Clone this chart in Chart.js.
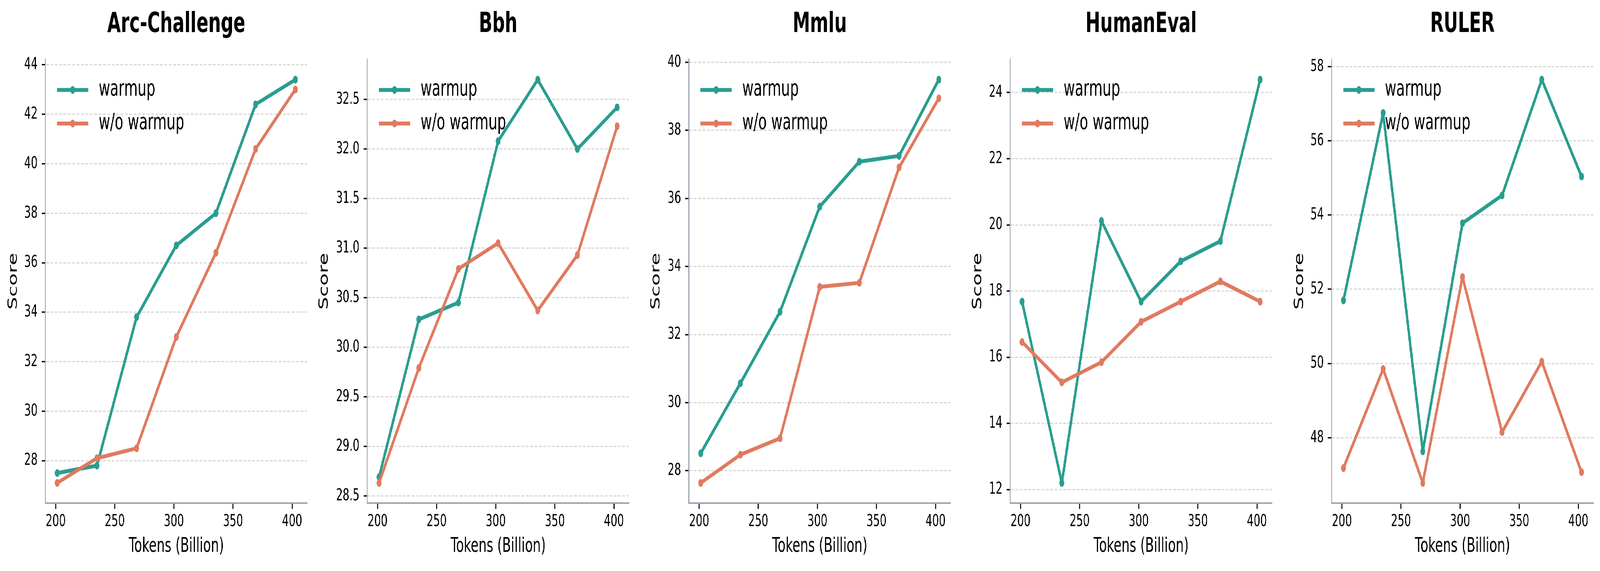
<!DOCTYPE html>
<html>
<head>
<meta charset="utf-8">
<script src="https://cdn.jsdelivr.net/npm/chart.js@4.4.1/dist/chart.umd.min.js"></script>
<style>
  html, body { margin: 0; padding: 0; background: #fff; overflow: hidden; }
  #wrap { position: absolute; left: 0; top: 0; width: 6562px; height: 1463px; background: #fff; transform-origin: 0 0; }
  #wrap canvas { position: absolute; top: 0; }
</style>
</head>
<body>
<div id="wrap"></div>
<script>
// x positions (tokens, billion) shared by every panel
const tokens = [201.3, 234.9, 268.4, 302.0, 335.5, 369.1, 402.7];
const xTicks = [200, 250, 300, 350, 400];

const arcWarmup = [27.5, 27.8, 33.8, 36.7, 38.0, 42.4, 43.4];
const arcNoWarmup = [27.1, 28.1, 28.5, 33.0, 36.4, 40.6, 43.0];
const arcTicks = [28, 30, 32, 34, 36, 38, 40, 42, 44];

const bbhWarmup = [28.69, 30.28, 30.45, 32.08, 32.70, 32.00, 32.42];
const bbhNoWarmup = [28.63, 29.79, 30.79, 31.05, 30.37, 30.93, 32.23];
const bbhTicks = [28.5, 29.0, 29.5, 30.0, 30.5, 31.0, 31.5, 32.0, 32.5];

const mmluWarmup = [28.51, 30.57, 32.67, 35.76, 37.08, 37.25, 39.49];
const mmluNoWarmup = [27.64, 28.47, 28.95, 33.40, 33.52, 36.91, 38.94];
const mmluTicks = [28, 30, 32, 34, 36, 38, 40];

const humanEvalWarmup = [17.68, 12.20, 20.12, 17.68, 18.90, 19.51, 24.39];
const humanEvalNoWarmup = [16.46, 15.24, 15.85, 17.07, 17.68, 18.29, 17.68];
const humanEvalTicks = [12, 14, 16, 18, 20, 22, 24];

const rulerWarmup = [51.70, 56.75, 47.63, 53.78, 54.53, 57.65, 55.04];
const rulerNoWarmup = [47.18, 49.85, 46.78, 52.33, 48.15, 50.05, 47.07];
const rulerTicks = [48, 50, 52, 54, 56, 58];

const seriesLabels = ["warmup", "w/o warmup"];
const seriesColors = ["#2a9d8f", "#e07a5f"];

document.addEventListener("DOMContentLoaded", function () {
    const FONT = "'DejaVu Sans', 'Liberation Sans', sans-serif";
    const SPINE = "#9aa5b1";
    const W = 6562, H = 1463;
    const Y_BOX = 240;      // width reserved left of each plot area
    const PLOT_W = 1074;
    const RIGHT_PAD = 20;

    // the figure is laid out at 6562x1463; fit it to whatever viewport we get
    const wrap = document.getElementById("wrap");
    const sx = window.innerWidth / W, sy = window.innerHeight / H;
    wrap.style.transform = "scale(" + sx + "," + sy + ")";

    Chart.defaults.font.family = FONT;

    const panels = [
        { title: "Arc-Challenge", warmup: arcWarmup, noWarmup: arcNoWarmup, ticks: arcTicks, decimals: 0, left: 186, scoreGap: 131 },
        { title: "Bbh", warmup: bbhWarmup, noWarmup: bbhNoWarmup, ticks: bbhTicks, decimals: 1, left: 1506, scoreGap: 176 },
        { title: "Mmlu", warmup: mmluWarmup, noWarmup: mmluNoWarmup, ticks: mmluTicks, decimals: 0, left: 2825, scoreGap: 134 },
        { title: "HumanEval", warmup: humanEvalWarmup, noWarmup: humanEvalNoWarmup, ticks: humanEvalTicks, decimals: 0, left: 4143, scoreGap: 133 },
        { title: "RULER", warmup: rulerWarmup, noWarmup: rulerNoWarmup, ticks: rulerTicks, decimals: 0, left: 5461, scoreGap: 131 }
    ];

    // legend drawn like matplotlib's: line + marker handle, no frame
    const lineLegend = {
        id: "lineLegend",
        afterDatasetsDraw(chart) {
            const ctx = chart.ctx;
            const area = chart.chartArea;
            ctx.save();
            chart.data.datasets.forEach((ds, i) => {
                const y = area.top + 78 + i * 86;
                const x0 = area.left + 48;
                ctx.strokeStyle = ds.borderColor;
                ctx.lineWidth = 10;
                ctx.beginPath();
                ctx.moveTo(x0, y);
                ctx.lineTo(x0 + 128, y);
                ctx.stroke();
                ctx.fillStyle = ds.borderColor;
                ctx.beginPath();
                ctx.arc(x0 + 64, y, 10, 0, Math.PI * 2);
                ctx.fill();
                ctx.fillStyle = "#000";
                ctx.font = "57px " + FONT;
                ctx.textAlign = "left";
                ctx.textBaseline = "middle";
                ctx.fillText(ds.label, area.left + 219, y);
            });
            ctx.restore();
        }
    };

    function padRange(values) {
        const lo = Math.min(...values), hi = Math.max(...values);
        const m = (hi - lo) * 0.05;
        return [lo - m, hi + m];
    }

    function makeDataset(values, idx) {
        return {
            label: seriesLabels[idx],
            data: tokens.map((t, i) => ({ x: t, y: values[i] })),
            borderColor: seriesColors[idx],
            backgroundColor: seriesColors[idx],
            pointBackgroundColor: seriesColors[idx],
            borderWidth: 10,
            pointRadius: 10,
            pointBorderWidth: 0,
            pointHoverRadius: 10,
            borderJoinStyle: "round",
            tension: 0,
            order: 1 - idx
        };
    }

    function renderPanel(p) {
        const canvas = document.createElement("canvas");
        canvas.width = Y_BOX + PLOT_W + RIGHT_PAD;
        canvas.height = H;
        canvas.style.left = (p.left - Y_BOX) + "px";
        canvas.style.width = canvas.width + "px";
        canvas.style.height = H + "px";
        wrap.appendChild(canvas);

        const xRange = padRange(tokens);
        const yRange = padRange(p.warmup.concat(p.noWarmup));

        new Chart(canvas.getContext("2d"), {
            type: "line",
            data: { datasets: [makeDataset(p.warmup, 0), makeDataset(p.noWarmup, 1)] },
            options: {
                responsive: false,
                animation: false,
                devicePixelRatio: 1,
                layout: { padding: { left: 0, right: RIGHT_PAD, top: 0, bottom: 0 } },
                plugins: {
                    legend: { display: false },
                    tooltip: { enabled: false },
                    title: {
                        display: true,
                        text: p.title,
                        color: "#000",
                        fullSize: false,
                        font: { size: 72, weight: "bold" },
                        padding: { top: 20, bottom: 46 }
                    }
                },
                scales: {
                    x: {
                        type: "linear",
                        min: xRange[0],
                        max: xRange[1],
                        afterBuildTicks: s => { s.ticks = xTicks.map(v => ({ value: v })); },
                        afterFit: s => { s.height = H - 1289; },
                        grid: { drawOnChartArea: false, drawTicks: true, tickLength: 15, tickWidth: 4, tickColor: "#000" },
                        border: { color: SPINE, width: 4 },
                        ticks: { color: "#000", font: { size: 43 }, padding: 7, maxRotation: 0, autoSkip: false },
                        title: { display: true, text: "Tokens (Billion)", color: "#000", font: { size: 52 }, padding: { top: 0, bottom: 31 } }
                    },
                    y: {
                        type: "linear",
                        min: yRange[0],
                        max: yRange[1],
                        afterBuildTicks: s => { s.ticks = p.ticks.map(v => ({ value: v })); },
                        afterFit: s => { s.width = Y_BOX; },
                        grid: { color: "#d9d9d9", lineWidth: 3.3, drawTicks: true, tickLength: 15, tickWidth: 3.5, tickColor: "#000" },
                        border: { color: SPINE, width: 4, dash: [12, 6] },
                        ticks: {
                            color: "#000",
                            font: { size: 43 },
                            padding: 17,
                            autoSkip: false,
                            callback: v => Number(v).toFixed(p.decimals)
                        },
                        title: { display: true, text: "Score", color: "#000", font: { size: 52 }, padding: { top: Y_BOX - p.scoreGap - 31.2, bottom: 0 } }
                    }
                }
            },
            plugins: [lineLegend]
        });
    }

    panels.forEach(renderPanel);
});
</script>
</body>
</html>
